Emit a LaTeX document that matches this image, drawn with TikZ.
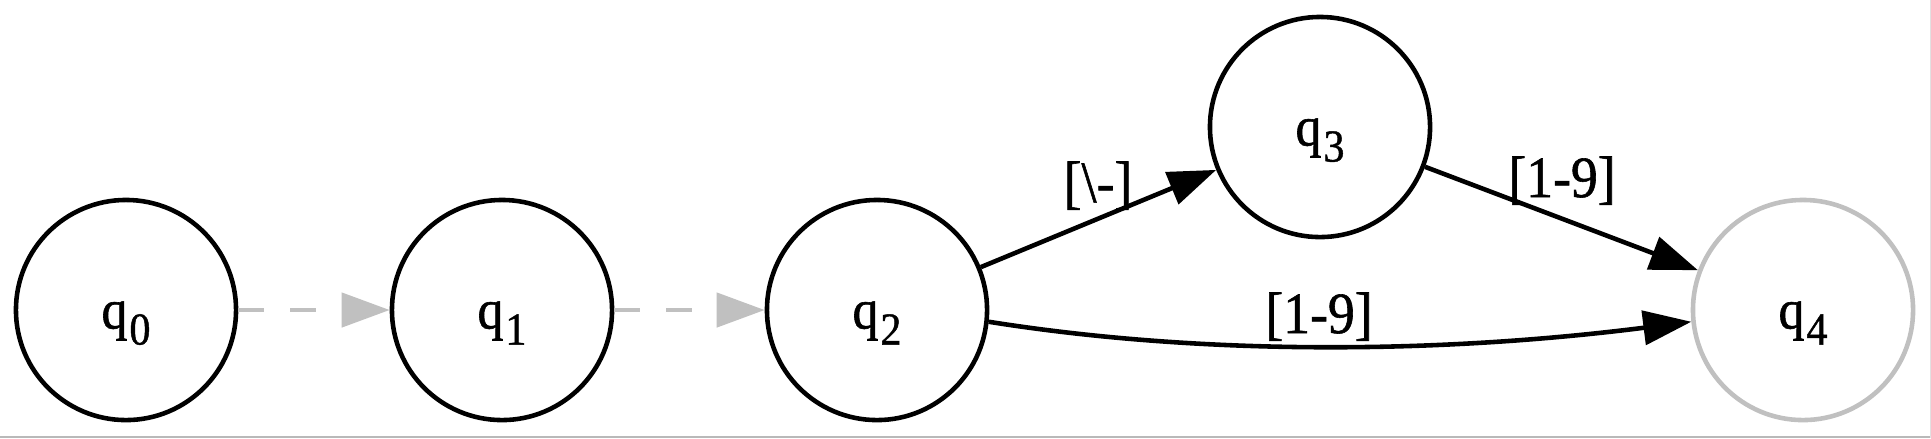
\documentclass[tikz,border=0pt]{standalone}
\usepackage{fontspec}
\setmainfont[FakeStretch=0.92,FakeBold=1]{Liberation Serif}
\usetikzlibrary{arrows.meta}
\definecolor{lgray}{RGB}{192,192,192}
\definecolor{framegray}{RGB}{185,185,185}
\definecolor{framelight}{RGB}{225,225,225}
\newcommand{\stname}[1]{\fontsize{16}{17}\selectfont q\kern0.02cm\raisebox{-0.16cm}{\fontsize{13}{14}\selectfont #1}}
\begin{document}
\begin{tikzpicture}[x=0.01cm,y=-0.01cm,
  state/.style={circle, draw, line width=1.3pt, minimum size=2.2cm, inner sep=0pt, text height=0.5cm, text depth=0.13cm},
  graystate/.style={state, draw=lgray},
  solidedge/.style={line width=1.3pt, -{Triangle[length=0.48cm,width=0.34cm]}},
  dashedge/.style={line width=1.3pt, lgray, dash pattern=on 0.26cm off 0.26cm, -{Triangle[length=0.48cm,width=0.34cm]}},
  lab/.style={anchor=base, inner sep=0pt, font=\fontsize{16.6}{18}\selectfont}]
\fill[white] (0,0) rectangle (1931,438);
\useasboundingbox (0,0) rectangle (1931,438);
\draw[framegray, line width=0.6pt] (0,437.3) -- (1931,437.3);
\draw[framelight, line width=0.4pt] (1930.3,0) -- (1930.3,438);
\node[state] (q0) at (126,310) {\stname{0}};
\node[state] (q1) at (502,310) {\stname{1}};
\node[state] (q2) at (877,310) {\stname{2}};
\node[state] (q3) at (1320,127) {\stname{3}};
\node[graystate] (q4) at (1803,310) {\stname{4}};
\draw[dashedge] (q0) -- (q1);
\draw[dashedge] (q1) -- (q2);
\draw[solidedge] (q2) -- (q3);
\draw[solidedge] (q3) -- (q4);
\draw[solidedge] (q2.-6.5) .. controls (1196,354.7) and (1431,354.7) .. (q4.186.5);
\node[lab] (l23) at (1098,202) {[\textbackslash-]};
\node[lab] (l34) at (1562,197) {[1-9]};
\node[lab] (l24) at (1319,333) {[1-9]};
\end{tikzpicture}
\end{document}
